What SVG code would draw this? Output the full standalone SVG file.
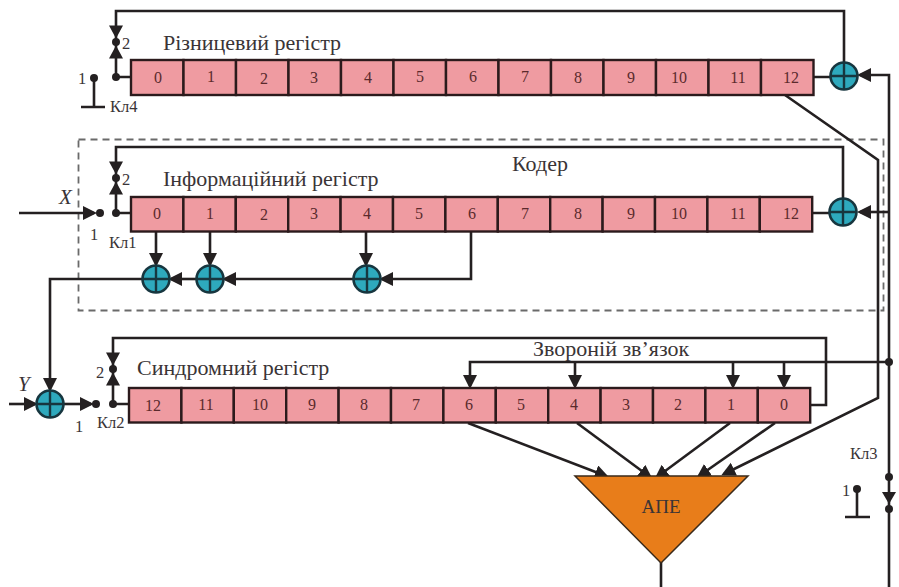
<svg xmlns="http://www.w3.org/2000/svg" xmlns:xlink="http://www.w3.org/1999/xlink" width="899" height="587" viewBox="0 0 899 587">
<style>
text{font-family:"Liberation Serif","Times New Roman",serif;fill:#3a3436}
.cell{fill:#ef9ba1;stroke:#2b1a1c;stroke-width:2.4}
.n{font-size:16px;text-anchor:middle;fill:#5a2a2c}
.t{font-size:22px}
.s{font-size:16.500px}
.w{fill:none;stroke:#242021;stroke-width:2.6}
.dash{fill:none;stroke:#6a6a6a;stroke-width:1.8;stroke-dasharray:7 5}
.h{fill:#242021}
.sum{fill:#2ea9bd;stroke:#17363f;stroke-width:2.6}
.cr{stroke:#17363f;stroke-width:2.4}
</style>
<defs>
<marker id="a" markerUnits="userSpaceOnUse" markerWidth="15" markerHeight="15" refX="11" refY="7" orient="auto"><path d="M0 0L14 7L0 14Z" fill="#242021"/></marker>
<g id="adder"><circle class="sum" r="13.5"/><path class="cr" d="M-13 0H13M0-13V13"/></g>
<path id="sw" class="h" d="M-7 0H7L0 13ZM-7 33H7L0 20Z"/>
</defs>
<rect class="dash" x="78.500" y="139.500" width="805" height="171"/>
<g id="connectors">
<path class="w" d="M116 77V11H844V62M116 77H131M813 77H830"/>
<path class="w" d="M889 587V75H860" marker-end="url(#a)"/>
<path class="w" d="M785 95L878 160V398L724 474" marker-end="url(#a)"/>
<path class="w" d="M116 213V147H843V198M116 213H131M812 213H829"/>
<path class="w" d="M889 212H860" marker-end="url(#a)"/>
<path class="w" d="M19 213H94" marker-end="url(#a)"/>
<path class="w" d="M156 231V264" marker-end="url(#a)"/>
<path class="w" d="M210 231V264" marker-end="url(#a)"/>
<path class="w" d="M366 231V264" marker-end="url(#a)"/>
<path class="w" d="M471 231V279H382" marker-end="url(#a)"/>
<path class="w" d="M353 279H225" marker-end="url(#a)"/>
<path class="w" d="M196 279H171" marker-end="url(#a)"/>
<path class="w" d="M143 279H50V389" marker-end="url(#a)"/>
<path class="w" d="M9 404H35" marker-end="url(#a)"/>
<path class="w" d="M64 404H91" marker-end="url(#a)"/>
<path class="w" d="M113 404V338H826V405H810M113 404H129"/>
<path class="w" d="M889 362H470V386" marker-end="url(#a)"/>
<path class="w" d="M575 362V386" marker-end="url(#a)"/>
<path class="w" d="M733 362V386" marker-end="url(#a)"/>
<path class="w" d="M784 362V386" marker-end="url(#a)"/>
<path class="w" d="M468 423L606 476" marker-end="url(#a)"/>
<path class="w" d="M577 423L650 477" marker-end="url(#a)"/>
<path class="w" d="M730 423L657 477" marker-end="url(#a)"/>
<path class="w" d="M775 423L699 476" marker-end="url(#a)"/>
<path class="w" d="M661 562V587"/>
<path class="w" d="M94 78V107M81 107H105M857 489V517M845 517H870"/>
<circle class="h" cx="889" cy="362" r="4"/>
<circle class="h" cx="889" cy="477" r="4"/>
<path class="h" d="M882 492H896L889 504Z"/>
<circle class="h" cx="889" cy="509" r="4"/>
<circle class="h" cx="857" cy="489" r="4"/>
<circle class="h" cx="94" cy="78" r="4"/>
<circle class="h" cx="116" cy="77" r="4"/>
<circle class="h" cx="116" cy="42" r="4"/>
<use xlink:href="#sw" href="#sw" x="116" y="25.500"/>
<circle class="h" cx="100" cy="213" r="4"/>
<circle class="h" cx="116" cy="213" r="4"/>
<circle class="h" cx="116" cy="178" r="4"/>
<use xlink:href="#sw" href="#sw" x="116" y="161.500"/>
<circle class="h" cx="96" cy="404" r="4"/>
<circle class="h" cx="113" cy="404" r="4"/>
<circle class="h" cx="113" cy="369" r="4"/>
<use xlink:href="#sw" href="#sw" x="113" y="352.500"/>
</g>
<g id="reg-diff">
<rect class="cell" x="131" y="60" width="52.500" height="35"/><rect class="cell" x="183.500" y="60" width="52.500" height="35"/><rect class="cell" x="236" y="60" width="52.500" height="35"/><rect class="cell" x="288.500" y="60" width="52.500" height="35"/><rect class="cell" x="341" y="60" width="52.500" height="35"/><rect class="cell" x="393.500" y="60" width="52.500" height="35"/><rect class="cell" x="446" y="60" width="52.500" height="35"/><rect class="cell" x="498.500" y="60" width="52.500" height="35"/><rect class="cell" x="551" y="60" width="52.500" height="35"/><rect class="cell" x="603.500" y="60" width="52.500" height="35"/><rect class="cell" x="656" y="60" width="52.500" height="35"/><rect class="cell" x="708.500" y="60" width="52.500" height="35"/><rect class="cell" x="761" y="60" width="52.500" height="35"/>
<text class="n" x="158" y="83">0</text><text class="n" x="211" y="82">1</text><text class="n" x="264" y="84">2</text><text class="n" x="314" y="83">3</text><text class="n" x="368" y="83">4</text><text class="n" x="420" y="82">5</text><text class="n" x="473" y="82">6</text><text class="n" x="525" y="82">7</text><text class="n" x="578" y="83">8</text><text class="n" x="631" y="83">9</text><text class="n" x="679" y="83">10</text><text class="n" x="738" y="83">11</text><text class="n" x="791" y="83">12</text>
<text class="t" x="163" y="50">Різницевий регістр</text>
</g>
<g id="reg-info">
<rect class="cell" x="131" y="197" width="52.400" height="34.500"/><rect class="cell" x="183.400" y="197" width="52.400" height="34.500"/><rect class="cell" x="235.800" y="197" width="52.400" height="34.500"/><rect class="cell" x="288.200" y="197" width="52.400" height="34.500"/><rect class="cell" x="340.600" y="197" width="52.400" height="34.500"/><rect class="cell" x="393" y="197" width="52.400" height="34.500"/><rect class="cell" x="445.400" y="197" width="52.400" height="34.500"/><rect class="cell" x="497.800" y="197" width="52.400" height="34.500"/><rect class="cell" x="550.200" y="197" width="52.400" height="34.500"/><rect class="cell" x="602.600" y="197" width="52.400" height="34.500"/><rect class="cell" x="655" y="197" width="52.400" height="34.500"/><rect class="cell" x="707.400" y="197" width="52.400" height="34.500"/><rect class="cell" x="759.800" y="197" width="52.400" height="34.500"/>
<text class="n" x="157" y="219">0</text><text class="n" x="210" y="219">1</text><text class="n" x="264" y="220">2</text><text class="n" x="314" y="219">3</text><text class="n" x="367" y="219">4</text><text class="n" x="419" y="219">5</text><text class="n" x="472" y="219">6</text><text class="n" x="525" y="219">7</text><text class="n" x="578" y="219">8</text><text class="n" x="631" y="219">9</text><text class="n" x="679" y="219">10</text><text class="n" x="738" y="219">11</text><text class="n" x="791" y="219">12</text>
<text class="t" x="163" y="186">Інформаційний регістр</text>
</g>
<g id="reg-synd">
<rect class="cell" x="129" y="388" width="52.400" height="34.500"/><rect class="cell" x="181.400" y="388" width="52.400" height="34.500"/><rect class="cell" x="233.800" y="388" width="52.400" height="34.500"/><rect class="cell" x="286.200" y="388" width="52.400" height="34.500"/><rect class="cell" x="338.600" y="388" width="52.400" height="34.500"/><rect class="cell" x="391" y="388" width="52.400" height="34.500"/><rect class="cell" x="443.400" y="388" width="52.400" height="34.500"/><rect class="cell" x="495.800" y="388" width="52.400" height="34.500"/><rect class="cell" x="548.200" y="388" width="52.400" height="34.500"/><rect class="cell" x="600.600" y="388" width="52.400" height="34.500"/><rect class="cell" x="653" y="388" width="52.400" height="34.500"/><rect class="cell" x="705.400" y="388" width="52.400" height="34.500"/><rect class="cell" x="757.800" y="388" width="52.400" height="34.500"/>
<text class="n" x="153" y="411">12</text><text class="n" x="206" y="410">11</text><text class="n" x="260" y="410">10</text><text class="n" x="312" y="410">9</text><text class="n" x="364" y="410">8</text><text class="n" x="416" y="410">7</text><text class="n" x="469" y="410">6</text><text class="n" x="521" y="410">5</text><text class="n" x="574" y="410">4</text><text class="n" x="626" y="410">3</text><text class="n" x="678" y="410">2</text><text class="n" x="731" y="410">1</text><text class="n" x="784" y="410">0</text>
<text class="t" x="137" y="375">Синдромний регістр</text>
</g>
<g id="adders">
<use xlink:href="#adder" href="#adder" x="844" y="76"/>
<use xlink:href="#adder" href="#adder" x="843" y="212"/>
<use xlink:href="#adder" href="#adder" x="156" y="279"/>
<use xlink:href="#adder" href="#adder" x="210" y="279"/>
<use xlink:href="#adder" href="#adder" x="367" y="279"/>
<use xlink:href="#adder" href="#adder" x="50" y="404"/>
</g>
<g id="ape">
<path d="M575 476H748L661 563Z" fill="#e87d1a" stroke="#3a2a1a" stroke-width="1.500"/>
<text x="661" y="513" font-size="19" text-anchor="middle">АПЕ</text>
</g>
<g id="labels">
<text class="t" x="512" y="171">Кодер</text>
<text class="t" x="533" y="356">Звороній зв’язок</text>
<text class="s" x="122" y="49">2</text><text class="s" x="122" y="185">2</text><text class="s" x="96" y="378">2</text>
<text class="s" x="78" y="84">1</text><text class="s" x="90" y="240">1</text><text class="s" x="75" y="432">1</text><text class="s" x="842" y="496">1</text>
<text class="s" x="110" y="112">Кл4</text><text class="s" x="109" y="248">Кл1</text><text class="s" x="97" y="428">Кл2</text><text class="s" x="850" y="459">Кл3</text>
<text x="59" y="204" font-size="21" font-style="italic">X</text>
<text x="18" y="391" font-size="21" font-style="italic">Y</text>
</g>
</svg>
